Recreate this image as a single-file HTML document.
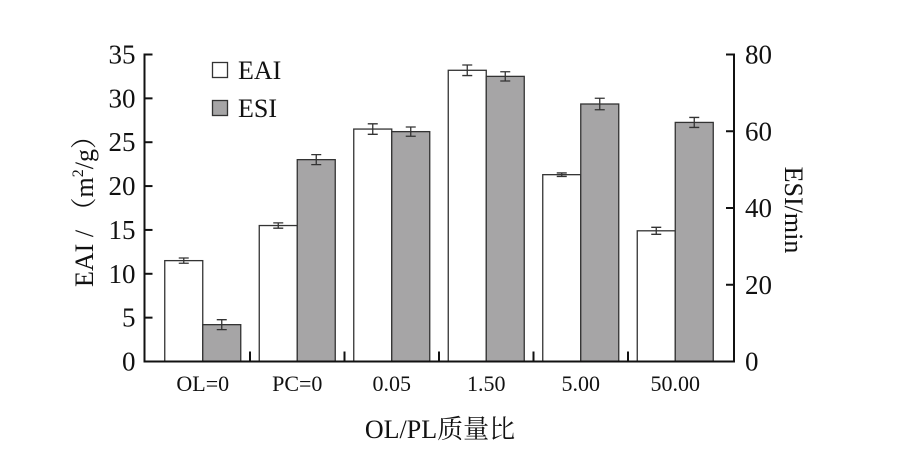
<!DOCTYPE html>
<html><head><meta charset="utf-8"><style>
body{margin:0;background:#fff}
svg text{font-family:"Liberation Serif","Noto Serif CJK SC",serif;fill:#111}
</style></head><body>
<svg id="c" width="918" height="460" viewBox="0 0 918 460" xmlns="http://www.w3.org/2000/svg"></svg>
<script>
const categories=["OL=0","PC=0","0.05","1.50","5.00","50.00"];
const eaiValues=[11.5,15.5,26.5,33.2,21.3,14.9];
const eaiErrors=[0.3,0.3,0.6,0.6,0.2,0.4];
const esiValues=[9.6,52.6,59.9,74.3,67.1,62.3];
const esiErrors=[1.3,1.3,1.2,1.2,1.5,1.3];
const leftTicks=[0,5,10,15,20,25,30,35];
const rightTicks=[0,20,40,60,80];
const svg=document.getElementById('c');
const NS="http://www.w3.org/2000/svg";
const L=144.5,R=734,T=54.5,B=361.5,bandStart=155.5,band=94.5,bw=38;
const yL=v=>B-(v/35)*(B-T);
const yR=v=>B-(v/80)*(B-T);
const xC=i=>bandStart+band*(i+0.5);
function mk(tag,at,txt){const e=document.createElementNS(NS,tag);for(const k in at)e.setAttribute(k,at[k]);if(txt!==undefined)e.textContent=txt;svg.appendChild(e);return e;}
function errbar(x,y1,y2){
 const g=mk('path',{d:`M${x},${y1}V${y2}M${x-5},${y1}H${x+5}M${x-5},${y2}H${x+5}`,stroke:'#333','stroke-width':1.3,fill:'none'});
 
 
}
categories.forEach((c,i)=>{
 const cx=xC(i);
 let y=yL(eaiValues[i]);
 const b1=mk('rect',{x:cx-bw,y:y,width:bw,height:B-y,fill:'#fff',stroke:'#333','stroke-width':1.3});
 
 
 errbar(cx-bw/2,yL(eaiValues[i]+eaiErrors[i]),yL(eaiValues[i]-eaiErrors[i]));
 y=yR(esiValues[i]);
 const b2=mk('rect',{x:cx,y:y,width:bw,height:B-y,fill:'#a6a5a6',stroke:'#333','stroke-width':1.3});
 
 
 errbar(cx+bw/2,yR(esiValues[i]+esiErrors[i]),yR(esiValues[i]-esiErrors[i]));
 const t=mk('text',{x:cx,y:391,'font-size':22,'text-anchor':'middle'},c);
 
 
 if(i>0){const s=mk('line',{x1:bandStart+band*i,x2:bandStart+band*i,y1:B,y2:B-10,stroke:'#111','stroke-width':2});
 
 }
});
const ax=mk('path',{d:`M${L+8},${T}H${L}V${B}H${R}V${T}H${R-8}`,stroke:'#111','stroke-width':2,fill:'none'});


leftTicks.forEach(v=>{
 const y=yL(v);
 const l=mk('line',{x1:L,x2:L+8,y1:y,y2:y,stroke:'#111','stroke-width':2});
 
 
 const t=mk('text',{x:L-9,y:y+9,'font-size':27,'text-anchor':'end'},v);
 
 
});
rightTicks.forEach(v=>{
 const y=yR(v);
 const l=mk('line',{x1:R-8,x2:R,y1:y,y2:y,stroke:'#111','stroke-width':2});
 
 
 const t=mk('text',{x:R+11,y:y+9,'font-size':27},v);
 
 
});
</script>
<svg style="position:absolute;left:0;top:0" width="918" height="460">
<text transform="translate(93,205) rotate(-90)" font-size="26" text-anchor="middle">EAI / （m<tspan font-size="16" dy="-10">2</tspan><tspan dy="10">/g）</tspan></text>
<text transform="translate(785,210) rotate(90)" font-size="26" text-anchor="middle">ESI/min</text>
<text x="440" y="438" font-size="26" text-anchor="middle">OL/PL质量比</text>
<g>
<rect x="212.5" y="62.5" width="15" height="15" fill="#fff" stroke="#333" stroke-width="1.3"/>
<text x="238" y="79" font-size="26">EAI</text>
<rect x="212.5" y="100.5" width="15" height="15" fill="#a6a5a6" stroke="#333" stroke-width="1.3"/>
<text x="238" y="117" font-size="26">ESI</text>
</g>
</svg>
</body></html>
